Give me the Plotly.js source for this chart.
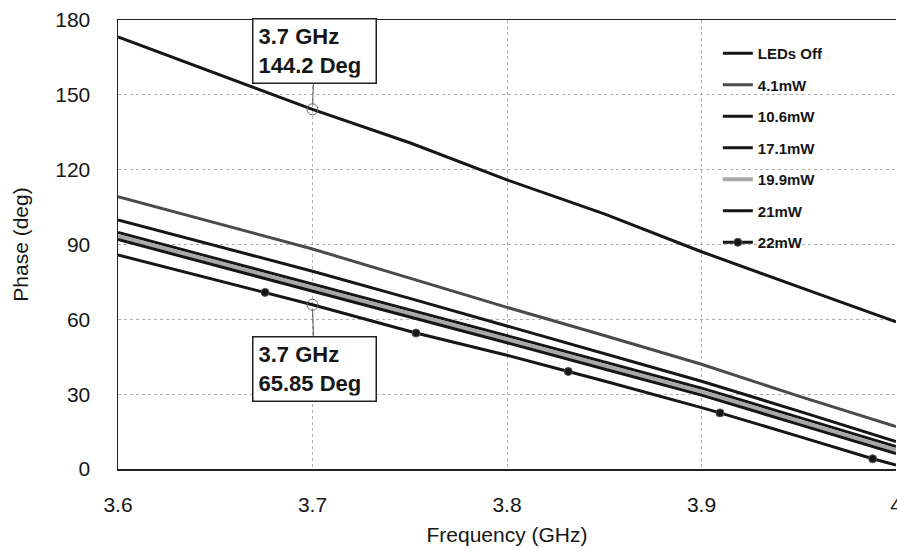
<!DOCTYPE html>
<html>
<head>
<meta charset="utf-8">
<script src="https://cdn.plot.ly/plotly-3.0.1.min.js"></script>
<style>
  html, body { margin: 0; padding: 0; background: #ffffff; }
  #chart { width: 897px; height: 549px; }
</style>
</head>
<body>
<div id="chart"></div>
<script>
// ---- Data ----
const seriesNames = ["LEDs Off", "4.1mW", "10.6mW", "17.1mW", "19.9mW", "21mW", "22mW"];
const freq = [3.6, 3.65, 3.7, 3.75, 3.8, 3.85, 3.9, 3.95, 4.0];
const phaseLedsOff = [173.2, 158.6, 144.2, 130.8, 115.9, 102.3, 87.1, 73.0, 59.0];
const phase4_1 = [109.2, 98.6, 88.2, 76.5, 64.8, 53.5, 42.0, 29.2, 17.0];
const phase10_6 = [99.8, 89.5, 79.3, 68.4, 57.3, 46.0, 35.2, 23.2, 11.0];
const phase17_1 = [94.8, 84.5, 74.3, 63.8, 53.4, 42.9, 32.4, 20.7, 9.0];
const phase19_9 = [93.4, 83.1, 72.9, 62.4, 52.0, 41.5, 31.0, 19.3, 7.6];
const phase21 = [92.0, 81.7, 71.5, 61.0, 50.6, 40.1, 29.6, 17.9, 6.2];
const freq22 = [3.6, 3.65, 3.6756, 3.7, 3.7532, 3.8, 3.8315, 3.85, 3.9, 3.9095, 3.95, 3.988, 4.0];
const phase22 = [85.8, 75.8, 70.8, 65.85, 54.5, 45.6, 39.1, 35.3, 24.6, 22.5, 13.1, 4.1, 1.6];
const markerFreq22 = [3.6756, 3.7532, 3.8315, 3.9095, 3.988];
const readoutFreq = [3.7, 3.7];
const readoutPhase = [144.2, 65.85];
const readoutText = ["3.7 GHz<br>144.2 Deg", "3.7 GHz<br>65.85 Deg"];
const xTitle = "Frequency (GHz)";
const yTitle = "Phase (deg)";

// ---- Styling ----
const FONT = "Arial, 'Liberation Sans', sans-serif";
const BLACK = "#161616";
const styles = [
  {color: BLACK, width: 3},
  {color: "#4a4a4a", width: 3},
  {color: BLACK, width: 3},
  {color: BLACK, width: 3},
  {color: "#a8a8a8", width: 4},
  {color: BLACK, width: 3},
  {color: BLACK, width: 3}
];
const ys = [phaseLedsOff, phase4_1, phase10_6, phase17_1, phase19_9, phase21];

const traces = [];
ys.forEach((y, i) => {
  traces.push({
    type: "scatter", mode: "lines", x: freq, y: y, name: seriesNames[i],
    legendgroup: "g" + i,
    line: {color: styles[i].color, width: styles[i].width},
    hoverinfo: "skip"
  });
});
const selIdx = freq22.map((f, i) => markerFreq22.includes(f) ? i : -1).filter(i => i >= 0);
traces.push({
  type: "scatter", mode: "lines+markers", x: freq22, y: phase22, name: seriesNames[6],
  legendgroup: "g6",
  line: {color: BLACK, width: 3},
  marker: {color: BLACK, size: 8, symbol: "circle", line: {color: "#555", width: 1}},
  selectedpoints: selIdx,
  selected: {marker: {opacity: 1}},
  unselected: {marker: {opacity: 0}},
  hoverinfo: "skip"
});
traces.push({
  type: "scatter", mode: "markers", x: readoutFreq, y: readoutPhase, showlegend: false,
  marker: {symbol: "circle-open", size: 11, color: "#666", line: {width: 1}},
  hoverinfo: "skip"
});

const annotations = readoutFreq.map((f, i) => ({
  x: f, y: readoutPhase[i], xref: "x", yref: "y",
  text: readoutText[i], showarrow: true, arrowhead: 0, arrowwidth: 1, arrowcolor: "#555",
  standoff: 5, ax: 2, ay: i === 0 ? -58 : 64,
  align: "left", width: 112, height: 53, borderpad: 5,
  bordercolor: "#222", borderwidth: 1.5, bgcolor: "#ffffff",
  font: {family: FONT, size: 22, color: BLACK, weight: "bold"}
}));

const layout = {
  width: 897, height: 549,
  margin: {l: 118, r: 1, t: 20, b: 80, pad: 0},
  paper_bgcolor: "#ffffff", plot_bgcolor: "#ffffff",
  showlegend: true,
  legend: {
    x: 0.771, xanchor: "left", y: 0.962, yanchor: "top",
    bgcolor: "rgba(255,255,255,0)", borderwidth: 0,
    tracegroupgap: 9, traceorder: "grouped",
    font: {family: FONT, size: 15, color: BLACK, weight: "bold"}
  },
  xaxis: {
    range: [3.6, 4.0], tick0: 3.6, dtick: 0.1,
    showgrid: true, gridcolor: "#b0b0b0", griddash: "dot", gridwidth: 1,
    zeroline: false, showline: true, linecolor: "#222", linewidth: 1.5, mirror: true,
    ticks: "", ticklabelstandoff: 16, ticklabeloverflow: "allow",
    tickfont: {family: FONT, size: 21, color: BLACK},
    title: {text: xTitle, font: {family: FONT, size: 21, color: BLACK}, standoff: 12}
  },
  yaxis: {
    range: [0, 180], tick0: 0, dtick: 30,
    showgrid: true, gridcolor: "#b0b0b0", griddash: "dot", gridwidth: 1,
    zeroline: false, showline: true, linecolor: "#222", linewidth: 1.5,
    ticks: "", ticklabelstandoff: 22,
    tickfont: {family: FONT, size: 21, color: BLACK},
    title: {text: yTitle, font: {family: FONT, size: 21, color: BLACK}, standoff: 21}
  },
  annotations: annotations
};

Plotly.newPlot("chart", traces, layout, {staticPlot: true, displayModeBar: false});
</script>
</body>
</html>
